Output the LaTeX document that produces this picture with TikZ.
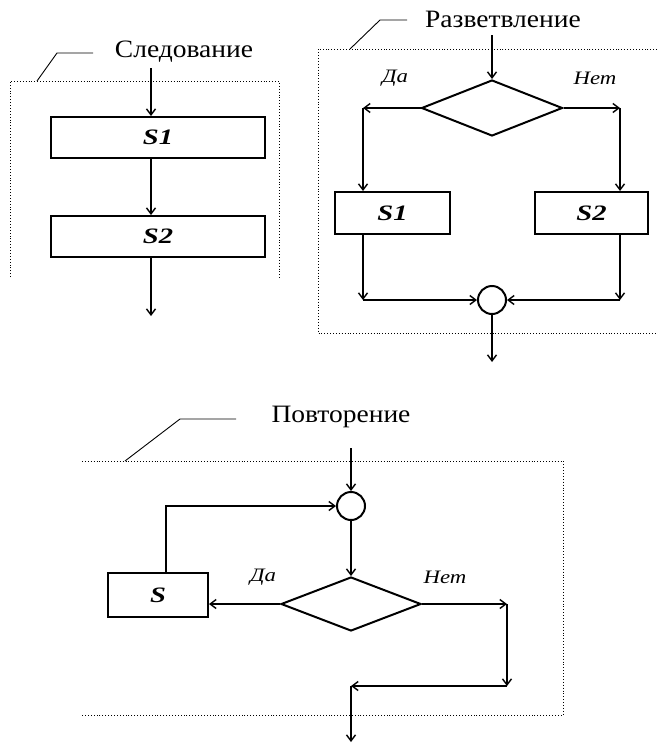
\documentclass[tikz,border=0pt]{standalone}
\usepackage{graphicx}
\usepackage{fontspec}
\setmainfont{Liberation Serif}
\usetikzlibrary{shapes.geometric,arrows.meta,calc}
\newcommand\widetext[2]{\scalebox{#1}[1]{#2}}

\begin{document}
\begin{tikzpicture}[x=1pt,y=-1pt,
    line width=2pt,
    arr/.style={-{Straight Barb[length=6pt,width=9pt,line width=1.4pt]}},
    frame/.style={line width=0.9pt,dotted},
    lead/.style={line width=0.9pt},
    title/.style={font=\fontsize{25}{28}\selectfont},
    block/.style={rectangle,draw,inner sep=0pt,font=\fontsize{22}{26}\selectfont\bfseries\itshape},
    cond/.style={diamond,draw,inner sep=0pt,minimum width=141pt,minimum height=56pt},
    merge/.style={circle,draw,inner sep=0pt,minimum size=28pt},
    answer/.style={font=\fontsize{19}{22}\selectfont\itshape}]
  \useasboundingbox (0,0) rectangle (657,747);

  \node[title] (seqt) at (184,52) {\widetext{1.1}{Следование}};
  \node[block,minimum width=214pt,minimum height=41pt] (s1) at (158,137.5) {\widetext{1.3}{S1}};
  \node[block,minimum width=214pt,minimum height=41pt] (s2) at (158,236.5) {\widetext{1.3}{S2}};
  \coordinate (seqin) at (151,68);
  \coordinate (seqout) at (151,316);
  \draw[arr] (seqin) -- (seqin |- s1.north);
  \draw[arr] (seqin |- s1.south) -- (seqin |- s2.north);
  \draw[arr] (seqin |- s2.south) -- (seqout);
  \draw[frame] (10,277) -- (10,81) -- (279,81) -- (279,280);
  \draw[lead] (37,81) -- (57,53) -- (93,53);

  \node[title] (brt) at (503,19) {\widetext{1.1}{Разветвление}};
  \node[cond] (d1) at (492,108) {};
  \node[block,minimum width=115pt,minimum height=42pt] (b1) at (392.5,213) {\widetext{1.3}{S1}};
  \node[block,minimum width=113pt,minimum height=42pt] (b2) at (591.5,213) {\widetext{1.3}{S2}};
  \node[merge] (j1) at (492,300) {};
  \node[answer] (yes1) at (395,78) {\widetext{1.2}{Да}};
  \node[answer] (no1) at (595,78) {\widetext{1.2}{Нет}};
  \coordinate (brin) at (492,35);
  \coordinate (bl) at (363,108);
  \coordinate (br) at (620,108);
  \coordinate (bl2) at (363,300);
  \coordinate (br2) at (620,300);
  \coordinate (brout) at (492,362);
  \draw[arr] (brin) -- (d1.north);
  \draw[arr] (d1.west) -- (bl);
  \draw[arr] (bl) -- (bl |- b1.north);
  \draw[arr] (d1.east) -- (br);
  \draw[arr] (br) -- (br |- b2.north);
  \draw[arr] (bl |- b1.south) -- (bl2);
  \draw[arr] (bl2) -- (j1.west);
  \draw[arr] (br |- b2.south) -- (br2);
  \draw[arr] (br2) -- (j1.east);
  \draw[arr] (j1.south) -- (brout);
  \draw[frame] (657,49) -- (318,49) -- (318,333) -- (657,333);
  \draw[lead] (350,49) -- (380,20) -- (407,20);

  \node[title] (rept) at (341,417) {\widetext{1.1}{Повторение}};
  \node[merge] (j2) at (351,506) {};
  \node[cond,minimum width=140pt,minimum height=54pt] (d2) at (351,604) {};
  \node[block,minimum width=100pt,minimum height=44pt] (s) at (158,595) {\widetext{1.3}{S}};
  \node[answer] (yes2) at (263,577) {\widetext{1.2}{Да}};
  \node[answer] (no2) at (445,577) {\widetext{1.2}{Нет}};
  \coordinate (repin) at (351,448);
  \coordinate (up) at (166,506);
  \coordinate (rr) at (507,604);
  \coordinate (rr2) at (507,686);
  \coordinate (back) at (351,686);
  \coordinate (repout) at (351,742);
  \draw[arr] (repin) -- (j2.north);
  \draw[arr] (j2.south) -- (d2.north);
  \draw[arr] (d2.west) -- (s.east |- d2.west);
  \draw[arr] (up |- s.north) -- (up) -- (j2.west);
  \draw[arr] (d2.east) -- (rr);
  \draw[arr] (rr) -- (rr2);
  \draw[arr] (rr2) -- (back);
  \draw[arr] (back) -- (repout);
  \draw[frame] (82,461) -- (563,461) -- (563,715) -- (82,715);
  \draw[lead] (125,461) -- (180,419) -- (236,419);
\end{tikzpicture}
\end{document}
